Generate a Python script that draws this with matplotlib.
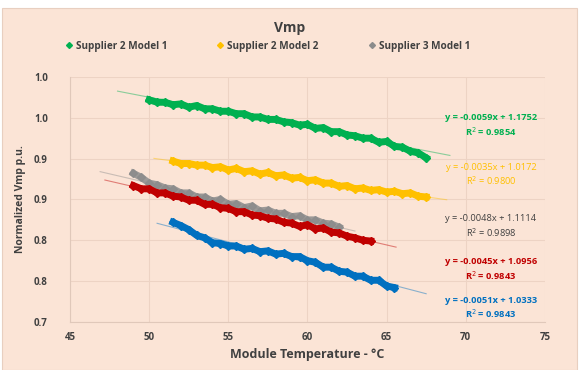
import numpy as np
import matplotlib
matplotlib.use('Agg')
import matplotlib.pyplot as plt

# --- datos ---
green_x = [50.0, 50.5, 51.0, 51.5, 52.0, 52.5, 53.0, 53.5, 54.0, 54.5, 55.0, 55.5,
           56.0, 56.5, 57.0, 57.5, 58.0, 58.5, 59.0, 59.5, 60.0, 60.5, 61.0, 61.5,
           62.0, 62.5, 63.0, 63.5, 64.0, 64.5, 65.0, 65.5, 66.0, 66.5, 67.0, 67.5]
green_y = [0.972, 0.969, 0.969, 0.966, 0.967, 0.963, 0.965, 0.961, 0.961, 0.958, 0.958, 0.955,
           0.955, 0.951, 0.951, 0.948, 0.948, 0.945, 0.944, 0.941, 0.942, 0.937, 0.938, 0.933,
           0.933, 0.929, 0.928, 0.925, 0.925, 0.920, 0.921, 0.915, 0.914, 0.909, 0.907, 0.901]

yellow_x = [51.5, 52.0, 52.5, 53.0, 53.5, 54.0, 54.5, 55.0, 55.5, 56.0, 56.5, 57.0,
            57.5, 58.0, 58.5, 59.0, 59.5, 60.0, 60.5, 61.0, 61.5, 62.0, 62.5, 63.0,
            63.5, 64.0, 64.5, 65.0, 65.5, 66.0, 66.5, 67.0, 67.5]
yellow_y = [0.897, 0.894, 0.894, 0.892, 0.892, 0.889, 0.890, 0.886, 0.888, 0.884, 0.885, 0.881,
            0.883, 0.879, 0.880, 0.876, 0.877, 0.873, 0.874, 0.870, 0.870, 0.866, 0.867, 0.863,
            0.864, 0.861, 0.862, 0.859, 0.860, 0.857, 0.858, 0.854, 0.853]

gray_x = [49.0, 49.5, 50.0, 50.5, 51.0, 51.5, 52.0, 52.5, 53.0, 53.5, 54.0, 54.5, 55.0,
          55.5, 56.0, 56.5, 57.0, 57.5, 58.0, 58.5, 59.0, 59.5, 60.0, 60.5, 61.0, 61.5, 62.0]
gray_y = [0.882, 0.877, 0.870, 0.868, 0.864, 0.863, 0.858, 0.858, 0.853, 0.853, 0.848, 0.850, 0.844,
          0.845, 0.840, 0.842, 0.836, 0.837, 0.833, 0.833, 0.829, 0.830, 0.825, 0.825, 0.821, 0.820, 0.816]

red_x = [49.0, 49.5, 50.0, 50.5, 51.0, 51.5, 52.0, 52.5, 53.0, 53.5, 54.0, 54.5, 55.0, 55.5,
         56.0, 56.5, 57.0, 57.5, 58.0, 58.5, 59.0, 59.5, 60.0, 60.5, 61.0, 61.5, 62.0, 62.5,
         63.0, 63.5, 64.0]
red_y = [0.867, 0.863, 0.863, 0.858, 0.858, 0.854, 0.853, 0.849, 0.849, 0.844, 0.844, 0.840, 0.839, 0.835,
         0.835, 0.831, 0.830, 0.827, 0.826, 0.822, 0.821, 0.817, 0.819, 0.814, 0.815, 0.810, 0.809, 0.805,
         0.803, 0.800, 0.799]

blue_x = [51.5, 52.0, 52.5, 53.0, 53.5, 54.0, 54.5, 55.0, 55.5, 56.0, 56.5, 57.0, 57.5, 58.0,
          58.5, 59.0, 59.5, 60.0, 60.5, 61.0, 61.5, 62.0, 62.5, 63.0, 63.5, 64.0, 64.5, 65.0, 65.5]
blue_y = [0.822, 0.818, 0.813, 0.806, 0.803, 0.797, 0.796, 0.793, 0.793, 0.789, 0.790, 0.786, 0.787, 0.783,
          0.784, 0.780, 0.780, 0.775, 0.773, 0.767, 0.767, 0.762, 0.761, 0.756, 0.756, 0.751, 0.751, 0.744, 0.742]

# rango de cada linea de tendencia
green_trend = [48.0, 69.0]
yellow_trend = [50.3, 68.8]
gray_trend = [46.9, 63.0]
red_trend = [47.2, 65.6]
blue_trend = [50.5, 67.5]

labels = ['Supplier 2 Model 1', 'Supplier 2 Model 2', 'Supplier 3 Model 1']
ecuaciones = ['y = -0.0059x + 1.1752\nR$^2$ = 0.9854',
              'y = -0.0035x + 1.0172\nR$^2$ = 0.9800',
              'y = -0.0048x + 1.1114\nR$^2$ = 0.9898',
              'y = -0.0045x + 1.0956\nR$^2$ = 0.9843',
              'y = -0.0051x + 1.0333\nR$^2$ = 0.9843']
yticks = [0.70, 0.75, 0.80, 0.85, 0.90, 0.95, 1.00]
ytick_labels = ['0.7', '0.8', '0.8', '0.9', '0.9', '1.0', '1.0']
xticks = [45, 50, 55, 60, 65, 70, 75]

# --- estilo ---
fondo = '#FBE4D6'
c_green = '#00B050'
c_yellow = '#FFC000'
c_gray = '#8C8C8C'
c_red = '#C00000'
c_blue = '#0070C0'
plt.rcParams['font.family'] = ['Open Sans', 'DejaVu Sans']

fig = plt.figure(figsize=(5.79, 3.70), dpi=100, facecolor='white')
# recuadro de fondo del grafico
fig.patches.append(plt.Rectangle((0.004, 0.0), 0.992, 0.978, transform=fig.transFigure,
                                 facecolor=fondo, edgecolor='#E8CFC0', lw=0.8, zorder=-10))
ax = fig.add_axes([0.121, 0.130, 0.820, 0.662])
ax.set_facecolor(fondo)

series = [(green_x, green_y, c_green, green_trend),
          (yellow_x, yellow_y, c_yellow, yellow_trend),
          (gray_x, gray_y, c_gray, gray_trend),
          (red_x, red_y, c_red, red_trend),
          (blue_x, blue_y, c_blue, blue_trend)]

for i, (x, y, c, tr) in enumerate(series):
    # linea de tendencia
    p = np.polyfit(x, y, 1)
    xt = np.array(tr)
    ax.plot(xt, np.polyval(p, xt), color=c, lw=0.8, alpha=0.45, zorder=2)
    ax.plot(x, y, color=c, lw=5, marker='D', markersize=4, zorder=3 + (i == 3),
            alpha=0.85 if i == 2 else 1)
    if i < 3:
        ax.plot([], [], color=c, marker='D', markersize=3, ls='none', label=labels[i])

# ecuaciones
ec_col = [c_green, c_yellow, '#404040', c_red, c_blue]
ec_y = [0.941, 0.880, 0.817, 0.764, 0.717]
for e, c, yy in zip(ecuaciones, ec_col, ec_y):
    ax.text(71.6, yy, e, color=c, fontsize=6.7, ha='center', va='center',
            fontweight='bold' if c in (c_green, c_red, c_blue) else 'normal', linespacing=1.3)

ax.set_xlim(45, 75)
ax.set_ylim(0.70, 1.00)
ax.set_xticks(xticks)
ax.set_yticks(yticks)
ax.set_yticklabels(ytick_labels)
ax.grid(True, color='#EDD3C4', lw=0.8)
ax.set_axisbelow(True)
for s in ['top', 'right']:
    ax.spines[s].set_visible(False)
ax.spines['left'].set_color('#E0C8BA')
ax.spines['bottom'].set_color('#E0C8BA')
ax.tick_params(axis='y', length=0, labelsize=7, colors='#404040', pad=16)
ax.tick_params(axis='x', length=0, labelsize=7, colors='#404040', pad=7)
for t in ax.get_xticklabels() + ax.get_yticklabels():
    t.set_fontweight('bold')

ax.set_xlabel('Module Temperature - °C', fontsize=9, fontweight='bold', color='#404040', labelpad=4)
ax.set_ylabel('Normalized Vmp p.u.', fontsize=7.5, fontweight='bold', color='#404040', labelpad=6)
fig.text(0.50, 0.925, 'Vmp', fontsize=10, fontweight='bold', color='#404040', ha='center', va='center')

h, l = [], []
for line in ax.get_lines():
    if line.get_label() in labels:
        h.append(line)
        l.append(line.get_label())
leg = fig.legend(h, l, loc='center', bbox_to_anchor=(0.463, 0.875), ncol=3, frameon=False,
                 fontsize=7.2, columnspacing=5.0, handlelength=0.6, handletextpad=0.4)
for t in leg.get_texts():
    t.set_fontweight('bold')
    t.set_color('#404040')

fig.savefig('out.png', dpi=100, facecolor='white')
